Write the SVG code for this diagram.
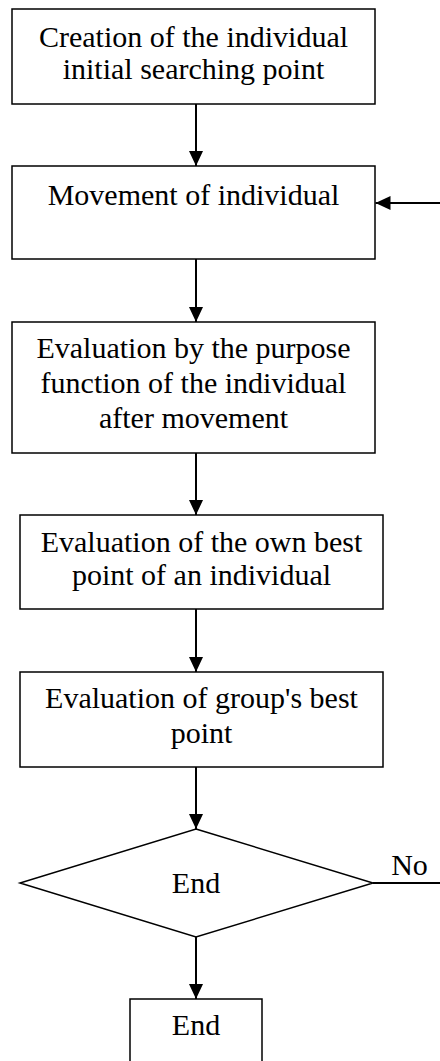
<svg xmlns="http://www.w3.org/2000/svg" width="440" height="1061" viewBox="0 0 440 1061">
<style>
.box{fill:#fff;stroke:#000;stroke-width:1.5}
.t{font-family:"Liberation Serif","Times New Roman",serif;font-size:30px;fill:#000;text-anchor:middle}
.c{stroke:#000;stroke-width:2;fill:none}
</style>
<defs>
<marker id="ah" viewBox="0 0 15 14" refX="15" refY="7" markerWidth="15" markerHeight="14" markerUnits="userSpaceOnUse" orient="auto">
<path d="M0,0 L15,7 L0,14 Z" fill="#000"/>
</marker>
</defs>
<rect width="440" height="1061" fill="#fff"/>
<g id="n1">
<rect class="box" x="12" y="9" width="363" height="95"/>
<text class="t" x="193.5" y="47">Creation of the individual</text>
<text class="t" x="193.5" y="79">initial searching point</text>
</g>
<g id="n2">
<rect class="box" x="12" y="166" width="363" height="93"/>
<text class="t" x="193.5" y="205">Movement of individual</text>
</g>
<g id="n3">
<rect class="box" x="12" y="322" width="363" height="131"/>
<text class="t" x="193.5" y="358">Evaluation by the purpose</text>
<text class="t" x="193.5" y="393">function of the individual</text>
<text class="t" x="193.5" y="428">after movement</text>
</g>
<g id="n4">
<rect class="box" x="20" y="515" width="363" height="94"/>
<text class="t" x="201.5" y="552">Evaluation of the own best</text>
<text class="t" x="201.5" y="585">point of an individual</text>
</g>
<g id="n5">
<rect class="box" x="20" y="672" width="363" height="95"/>
<text class="t" x="201.5" y="708">Evaluation of group's best</text>
<text class="t" x="201.5" y="743">point</text>
</g>
<g id="n6">
<polygon class="box" points="196,829 373,883 196,937 20,883"/>
<text class="t" x="196" y="893">End</text>
</g>
<g id="n7">
<rect class="box" x="130" y="999" width="132" height="80"/>
<text class="t" x="196" y="1035">End</text>
</g>
<g id="connectors">
<line class="c" x1="196" y1="104" x2="196" y2="166" marker-end="url(#ah)"/>
<line class="c" x1="196" y1="259" x2="196" y2="322" marker-end="url(#ah)"/>
<line class="c" x1="196" y1="453" x2="196" y2="515" marker-end="url(#ah)"/>
<line class="c" x1="196" y1="609" x2="196" y2="672" marker-end="url(#ah)"/>
<line class="c" x1="196" y1="767" x2="196" y2="829" marker-end="url(#ah)"/>
<line class="c" x1="196" y1="937" x2="196" y2="999" marker-end="url(#ah)"/>
<line class="c" x1="440" y1="203" x2="375.5" y2="203" marker-end="url(#ah)"/>
<line class="c" x1="373" y1="883" x2="440" y2="883"/>
<text class="t" x="409.5" y="875">No</text>
</g>
</svg>
